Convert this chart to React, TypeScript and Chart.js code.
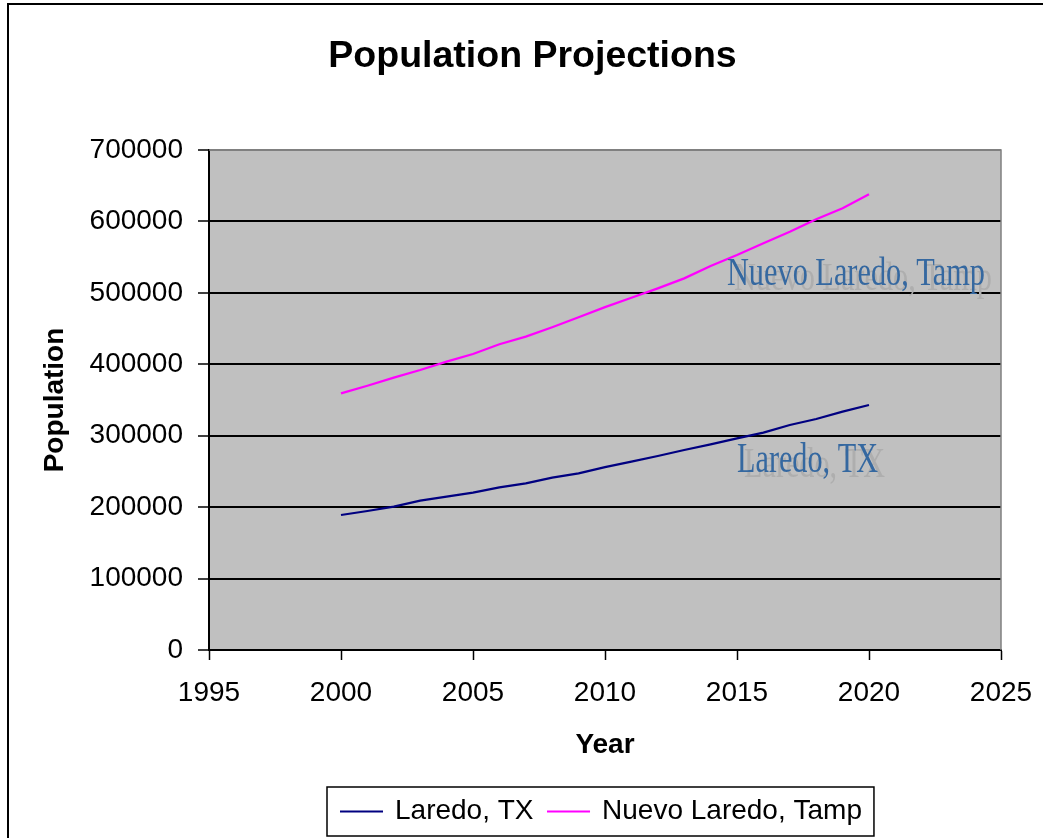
import React, { useEffect, useRef } from 'react';
import Chart from 'chart.js/auto';

// ---- data ----
const years = [2000, 2001, 2002, 2003, 2004, 2005, 2006, 2007, 2008, 2009, 2010, 2011, 2012, 2013, 2014, 2015, 2016, 2017, 2018, 2019, 2020];
const laredoTX = [189000, 194600, 200700, 209100, 214700, 220300, 227700, 233300, 241300, 247300, 256000, 263700, 271600, 280000, 288000, 296300, 304300, 315000, 323400, 333700, 343000];
const nuevoLaredo = [359300, 370000, 381300, 392000, 403700, 414400, 428000, 438700, 451800, 465800, 480000, 493200, 506300, 520300, 537600, 553000, 569400, 585600, 603000, 618400, 638000];
const seriesNames = ['Laredo, TX', 'Nuevo Laredo, Tamp'];
const seriesColors = ['#000080', '#FF00FF'];
const xMin = 1995;
const xMax = 2025;
const xStep = 5;
const yMin = 0;
const yMax = 700000;
const yStep = 100000;
const chartTitle = 'Population Projections';
const xTitle = 'Year';
const yTitle = 'Population';

// in-plot text labels (data coordinates of the text's left baseline)
const noteTexts = ['Nuevo Laredo, Tamp', 'Laredo, TX'];
const noteYears = [2014.62, 2015.0];
const noteValues = [511000, 249000];

const SANS = "'Liberation Sans', Arial, sans-serif";
const SERIF = "'Liberation Serif', 'Times New Roman', serif";

const decorPlugin = {
  id: 'decor',
  beforeDraw(chart: any) {
    const { ctx, chartArea: a } = chart;
    ctx.save();
    ctx.fillStyle = '#FFFFFF';
    ctx.fillRect(0, 0, chart.width, chart.height);
    ctx.fillStyle = '#C0C0C0';
    ctx.fillRect(a.left, a.top, a.right - a.left, a.bottom - a.top);
    ctx.restore();
  },
  beforeDatasetsDraw(chart: any) {
    const { ctx, chartArea: a } = chart;
    ctx.save();
    ctx.strokeStyle = '#808080';
    ctx.lineWidth = 1.5;
    ctx.beginPath();
    ctx.moveTo(a.left, a.top);
    ctx.lineTo(a.right, a.top);
    ctx.lineTo(a.right, a.bottom);
    ctx.stroke();
    ctx.restore();
  },
  afterDatasetsDraw(chart: any) {
    const { ctx } = chart;
    const xs = chart.scales.x;
    const ys = chart.scales.y;
    const sizes = [41, 42];
    const widths = [258, 141];
    ctx.save();
    ctx.textAlign = 'left';
    ctx.textBaseline = 'alphabetic';
    noteTexts.forEach((t, i) => {
      const px = xs.getPixelForValue(noteYears[i]);
      const py = ys.getPixelForValue(noteValues[i]);
      ctx.font = `${sizes[i]}px ${SERIF}`;
      ctx.fillStyle = '#AEAEAE';
      ctx.fillText(t, px + 7, py + 5, widths[i]);
      ctx.fillStyle = '#3568A0';
      ctx.fillText(t, px, py, widths[i]);
    });
    ctx.restore();
  },
  afterDraw(chart: any) {
    const { ctx } = chart;
    ctx.save();
    // outer frame
    ctx.strokeStyle = '#000';
    ctx.lineWidth = 2;
    ctx.strokeRect(8, 4, chart.width + 100, chart.height + 100);

    // legend
    ctx.font = `28px ${SANS}`;
    const sample = 43;
    const gapLine = 12;
    const gapItem = 13.5;
    const pad = 13;
    const left = 327;
    const top = 787;
    const h = 49;
    let total = pad;
    const ds = chart.data.datasets;
    ds.forEach((d: any, i: number) => {
      total += sample + gapLine + ctx.measureText(d.label).width;
      if (i < ds.length - 1) total += gapItem;
    });
    total += 12;
    ctx.fillStyle = '#FFFFFF';
    ctx.fillRect(left, top, total, h);
    ctx.lineWidth = 1.5;
    ctx.strokeStyle = '#000';
    ctx.strokeRect(left, top, total, h);
    const cy = top + h / 2;
    let x = left + pad;
    ds.forEach((d: any) => {
      ctx.strokeStyle = d.borderColor;
      ctx.lineWidth = 2;
      ctx.beginPath();
      ctx.moveTo(x, cy);
      ctx.lineTo(x + sample, cy);
      ctx.stroke();
      x += sample + gapLine;
      ctx.fillStyle = '#000';
      ctx.textAlign = 'left';
      ctx.textBaseline = 'middle';
      ctx.fillText(d.label, x, cy);
      x += ctx.measureText(d.label).width + gapItem;
    });
    ctx.restore();
  },
};

export default function App() {
  const ref = useRef<HTMLCanvasElement | null>(null);
  useEffect(() => {
    if (!ref.current) return;
    const seriesData = [laredoTX, nuevoLaredo];
    const chart = new Chart(ref.current, {
      type: 'line',
      data: {
        datasets: seriesData.map((vals, s) => ({
          label: seriesNames[s],
          data: years.map((yr, i) => ({ x: yr, y: vals[i] })),
          borderColor: seriesColors[s],
          backgroundColor: seriesColors[s],
          borderWidth: 2.25,
          pointRadius: 0,
          tension: 0,
          fill: false,
          xAxisID: 'x',
          yAxisID: 'y',
        })),
      },
      options: {
        responsive: false,
        maintainAspectRatio: false,
        animation: false,
        events: [],
        layout: { autoPadding: false, padding: { left: 22, right: 0, top: 0, bottom: 0 } },
        plugins: {
          legend: { display: false },
          tooltip: { enabled: false },
          title: {
            display: true,
            text: chartTitle,
            color: '#000',
            font: { family: SANS, size: 37.5, weight: 'bold' },
            padding: { top: 34, bottom: 71 },
          },
        },
        scales: {
          x: {
            type: 'linear',
            position: 'bottom',
            min: xMin,
            max: xMax,
            afterFit: (s: any) => {
              s.height = 188;
              s.paddingLeft = 0;
              s.paddingRight = 0;
            },
            grid: { display: true, drawOnChartArea: false, drawTicks: true, tickLength: 10, tickWidth: 1.5, tickColor: '#000' },
            border: { display: true, color: '#000', width: 2 },
            ticks: {
              stepSize: xStep,
              autoSkip: false,
              maxRotation: 0,
              padding: 16,
              color: '#000',
              font: { family: SANS, size: 28 },
              callback: (v: any) => String(v),
            },
            title: {
              display: true,
              text: xTitle,
              color: '#000',
              font: { family: SANS, size: 28, weight: 'bold' },
              padding: { top: 0, bottom: 76 },
            },
          },
          y: {
            type: 'linear',
            position: 'left',
            min: yMin,
            max: yMax,
            afterFit: (s: any) => {
              s.width = 187;
              s.paddingTop = 0;
              s.paddingBottom = 0;
            },
            grid: {
              color: (c: any) => (c.tick && c.tick.value === yMax ? '#808080' : '#000000'),
              lineWidth: 2,
              drawTicks: true,
              tickLength: 11,
              tickWidth: 1.5,
              tickColor: '#000',
            },
            border: { display: true, color: '#000', width: 2 },
            ticks: {
              stepSize: yStep,
              padding: 15,
              color: '#000',
              font: { family: SANS, size: 28 },
              callback: (v: any) => String(v),
            },
            title: {
              display: true,
              text: yTitle,
              color: '#000',
              font: { family: SANS, size: 28, weight: 'bold' },
              padding: { top: 16, bottom: 0 },
            },
          },
          yRight: {
            type: 'linear',
            position: 'right',
            display: true,
            afterFit: (s: any) => {
              s.width = 42;
              s.paddingTop = 0;
              s.paddingBottom = 0;
            },
            grid: { display: false, drawTicks: false },
            border: { display: false },
            ticks: { display: false },
          },
        },
      } as any,
      plugins: [decorPlugin],
    });
    return () => chart.destroy();
  }, []);

  return (
    <div style={{ position: 'fixed', left: 0, top: 0, width: 1043, height: 838, overflow: 'hidden' }}>
      <canvas ref={ref} width={1043} height={838} style={{ display: 'block', width: 1043, height: 838 }} />
    </div>
  );
}
